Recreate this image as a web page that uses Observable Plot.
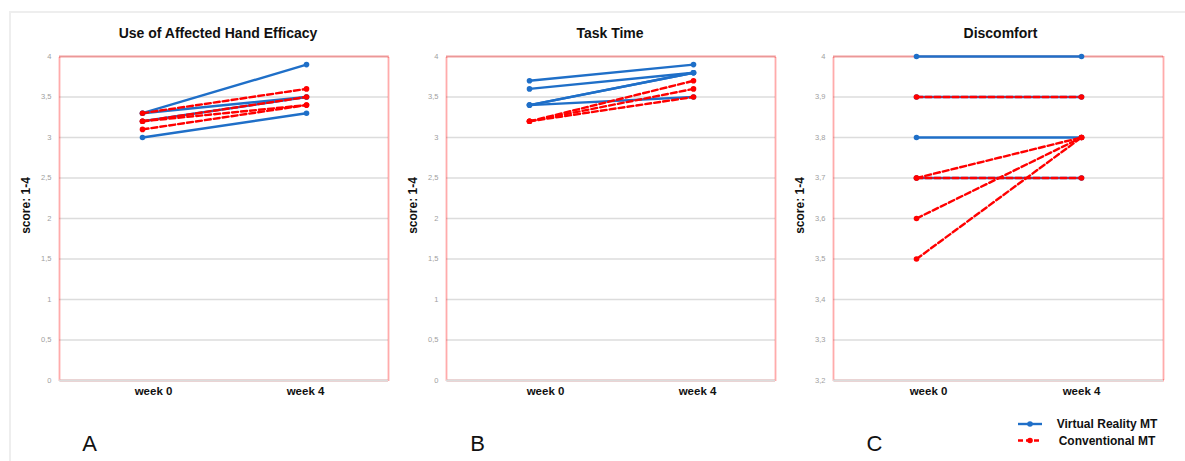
<!DOCTYPE html>
<html>
<head>
<meta charset="utf-8">
<script src="https://cdn.jsdelivr.net/npm/d3@7"></script>
<script src="https://cdn.jsdelivr.net/npm/@observablehq/plot@0.6"></script>
<style>
  html, body { margin: 0; padding: 0; background: #fff; }
  #root { position: relative; width: 1185px; height: 461px; overflow: hidden; font-family: "Liberation Sans", Arial, sans-serif; }
  .panel { position: absolute; top: 0; }
  .border { position: absolute; left: 9px; top: 11px; width: 1190px; height: 470px; border-top: 2px solid #eeeeee; border-left: 2px solid #eeeeee; box-sizing: border-box; }
  #legend { position: absolute; left: 1010px; top: 412px; }
</style>
</head>
<body>
<div id="root">
  <div class="border"></div>
</div>
<script>
// ---------- data ----------
const weeks = ["week 0", "week 4"];
const groups = ["Virtual Reality MT", "Conventional MT"];

// Panel A: Use of Affected Hand Efficacy
const effVRweek0 = [3.3, 3.0, 3.3, 3.2];
const effVRweek4 = [3.9, 3.3, 3.5, 3.5];
const effCMTweek0 = [3.3, 3.2, 3.1, 3.2];
const effCMTweek4 = [3.6, 3.5, 3.4, 3.4];

// Panel B: Task Time
const taskVRweek0 = [3.7, 3.6, 3.4, 3.4, 3.4];
const taskVRweek4 = [3.9, 3.8, 3.8, 3.8, 3.5];
const taskCMTweek0 = [3.2, 3.2, 3.2];
const taskCMTweek4 = [3.7, 3.6, 3.5];

// Panel C: Discomfort
const discVRweek0 = [4.0, 3.9, 3.8, 3.7];
const discVRweek4 = [4.0, 3.9, 3.8, 3.7];
const discCMTweek0 = [3.9, 3.7, 3.7, 3.6, 3.5];
const discCMTweek4 = [3.9, 3.7, 3.8, 3.8, 3.8];

// tick labels
const ticksAB = [0, 0.5, 1, 1.5, 2, 2.5, 3, 3.5, 4];
const ticksC = [3.2, 3.3, 3.4, 3.5, 3.6, 3.7, 3.8, 3.9, 4];
const titles = ["Use of Affected Hand Efficacy", "Task Time", "Discomfort"];
const letters = ["A", "B", "C"];
const yLabel = "score: 1-4";

// ---------- helpers ----------
const BLUE = "#1f6fc8";
const RED = "#ff0000";
const FONT = "'Liberation Sans', Arial, sans-serif";

function rows(w0, w4, group, prefix) {
  const out = [];
  w0.forEach((v, i) => {
    out.push({id: prefix + i, group, week: weeks[0], value: v});
    out.push({id: prefix + i, group, week: weeks[1], value: w4[i]});
  });
  return out;
}

const fmt = d => String(d).replace(".", ",");

function panel(cfg) {
  const vr = rows(cfg.vr0, cfg.vr4, groups[0], "v");
  const cm = rows(cfg.cm0, cfg.cm4, groups[1], "c");
  const plot = Plot.plot({
    width: cfg.width,
    height: 461,
    marginTop: 56,
    marginBottom: 81,
    marginLeft: cfg.ml,
    marginRight: cfg.mr,
    style: {fontFamily: FONT, background: "transparent", overflow: "visible"},
    x: {domain: weeks, type: "point", padding: 0.5, label: null},
    y: {domain: cfg.domain, label: null},
    marks: [
      Plot.ruleY(cfg.ticks, {stroke: "#dcdcdc", strokeWidth: 1.6}),
      Plot.frame({stroke: "#ff3b3b", strokeWidth: 1.8, strokeDasharray: "1,1", strokeOpacity: 0.85}),
      Plot.ruleY([cfg.domain[0]], {stroke: "#dcdcdc", strokeWidth: 1.8}),
      Plot.axisY(cfg.ticks, {tickSize: 0, tickPadding: 8, tickFormat: fmt, fontSize: 7.5, color: "#a0a0a0", label: null}),
      Plot.axisX([weeks[0]], {tickSize: 0, tickPadding: 6, fontSize: 11.5, fontWeight: "bold", color: "#111", dx: cfg.dx0, label: null}),
      Plot.axisX([weeks[1]], {tickSize: 0, tickPadding: 6, fontSize: 11.5, fontWeight: "bold", color: "#111", dx: cfg.dx4, label: null}),
      Plot.line(vr, {x: "week", y: "value", z: "id", stroke: BLUE, strokeWidth: 2.4}),
      Plot.dot(vr, {x: "week", y: "value", r: 2.8, fill: BLUE}),
      Plot.line(cm, {x: "week", y: "value", z: "id", stroke: RED, strokeWidth: 2.4, strokeDasharray: "6,3"}),
      Plot.dot(cm, {x: "week", y: "value", r: 2.8, fill: RED}),
      Plot.text([cfg.title], {frameAnchor: "top", lineAnchor: "middle", dy: -23, dx: cfg.tdx, fontSize: 14, fontWeight: "bold", fill: "#111"}),
      Plot.text([yLabel], {frameAnchor: "left", rotate: -90, dx: -33, dy: -13, lineAnchor: "middle", textAnchor: "middle", fontSize: 12, fontWeight: "bold", fill: "#111"}),
      Plot.text([cfg.letter], {frameAnchor: "bottom-left", dx: cfg.ldx, dy: 63, textAnchor: "middle", lineAnchor: "middle", fontSize: 22, fill: "#111"})
    ]
  });
  plot.classList.add("panel");
  plot.style.left = cfg.left + "px";
  return plot;
}

const root = document.getElementById("root");
root.appendChild(panel({
  left: 0, width: 395, ml: 59, mr: 7, domain: [0, 4], ticks: ticksAB,
  vr0: effVRweek0, vr4: effVRweek4, cm0: effCMTweek0, cm4: effCMTweek4,
  title: titles[0], letter: letters[0], tdx: -6, ldx: 30, dx0: 11, dx4: -1
}));
root.appendChild(panel({
  left: 395, width: 390, ml: 51, mr: 10, domain: [0, 4], ticks: ticksAB,
  vr0: taskVRweek0, vr4: taskVRweek4, cm0: taskCMTweek0, cm4: taskCMTweek4,
  title: titles[1], letter: letters[1], tdx: -1, ldx: 31, dx0: 16, dx4: 4
}));
root.appendChild(panel({
  left: 785, width: 400, ml: 48, mr: 22, domain: [3.2, 4], ticks: ticksC,
  vr0: discVRweek0, vr4: discVRweek4, cm0: discCMTweek0, cm4: discCMTweek4,
  title: titles[2], letter: letters[2], tdx: 2, ldx: 41, dx0: 12, dx4: 0
}));

// legend
const legend = d3.create("svg").attr("id", "legend").attr("width", 170).attr("height", 40);
const styles = [{stroke: BLUE, dash: null}, {stroke: RED, dash: "5,3"}];
groups.forEach((g, i) => {
  const y = 12 + i * 16.5;
  legend.append("line").attr("x1", 8).attr("x2", 32).attr("y1", y).attr("y2", y)
    .attr("stroke", styles[i].stroke).attr("stroke-width", 2.4).attr("stroke-dasharray", styles[i].dash);
  legend.append("circle").attr("cx", 20).attr("cy", y).attr("r", 2.8).attr("fill", styles[i].stroke);
  legend.append("text").attr("x", 97).attr("y", y).attr("dy", "0.35em").attr("text-anchor", "middle")
    .attr("font-family", FONT).attr("font-size", 12).attr("font-weight", "bold").attr("fill", "#111").text(g);
});
root.appendChild(legend.node());
</script>
</body>
</html>
